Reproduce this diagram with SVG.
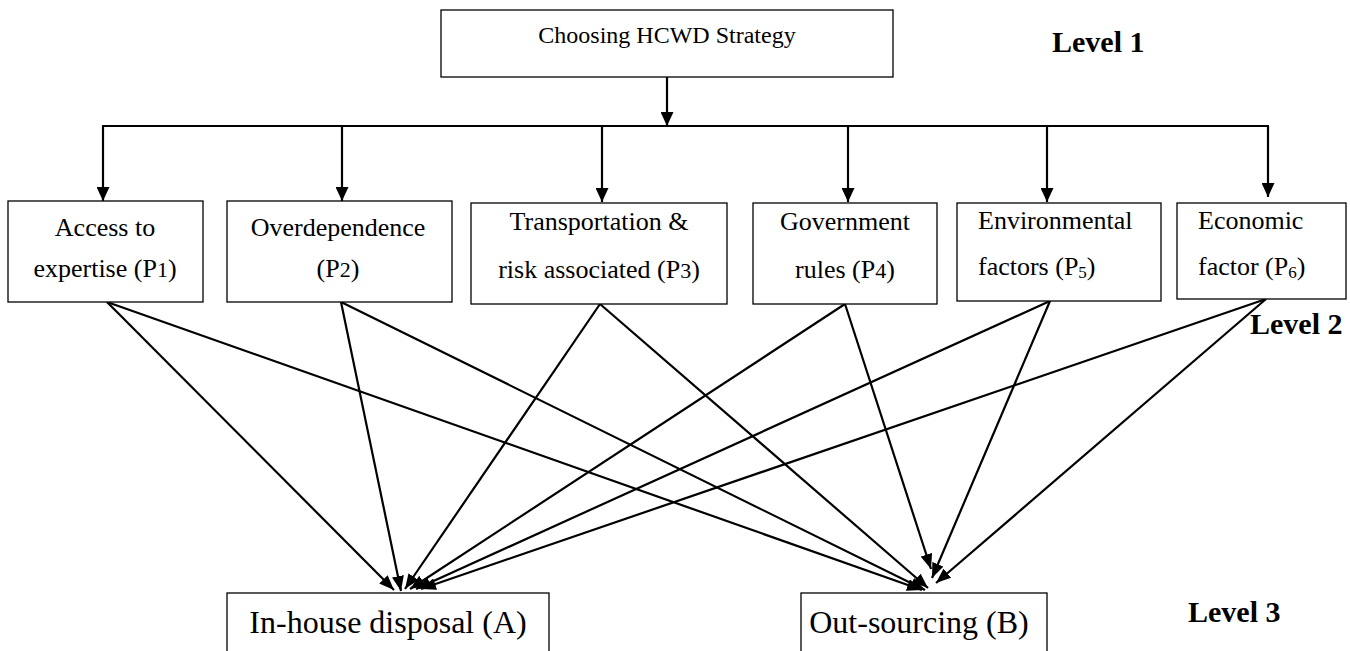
<svg xmlns="http://www.w3.org/2000/svg" width="1350" height="651" viewBox="0 0 1350 651">
<defs>
<style>
.box{fill:#fff;stroke:#000;stroke-width:1.3}
.t{font-family:"Liberation Serif","Times New Roman",serif;fill:#000}
.c{stroke:#000;stroke-width:2.2;fill:none}
.lvl{font-family:"Liberation Serif","Times New Roman",serif;font-weight:bold;font-size:30px;fill:#000}
</style>
<marker id="ah" viewBox="0 0 14 13" refX="14" refY="6.5" markerWidth="14" markerHeight="13" markerUnits="userSpaceOnUse" orient="auto">
<path d="M0,0 L14,6.5 L0,13 z" fill="#000"/>
</marker>
<marker id="ah2" viewBox="0 0 15 12" refX="15" refY="6" markerWidth="15" markerHeight="12" markerUnits="userSpaceOnUse" orient="auto">
<path d="M0,0 L15,6 L0,12 z" fill="#000"/>
</marker>
</defs>
<rect width="1350" height="651" fill="#fff"/>

<g id="connectors">
<line class="c" x1="667" y1="77" x2="667" y2="126" marker-end="url(#ah)"/>
<line class="c" x1="102" y1="126" x2="1269" y2="126"/>
<line class="c" x1="103" y1="126" x2="103" y2="201" marker-end="url(#ah)"/>
<line class="c" x1="342" y1="126" x2="342" y2="201" marker-end="url(#ah)"/>
<line class="c" x1="602" y1="126" x2="602" y2="202" marker-end="url(#ah)"/>
<line class="c" x1="848" y1="126" x2="848" y2="202" marker-end="url(#ah)"/>
<line class="c" x1="1047" y1="126" x2="1047" y2="202" marker-end="url(#ah)"/>
<line class="c" x1="1268" y1="126" x2="1268" y2="197" marker-end="url(#ah)"/>

<line class="c" x1="107" y1="302" x2="394" y2="590" marker-end="url(#ah2)"/>
<line class="c" x1="107" y1="302" x2="922" y2="590" marker-end="url(#ah2)"/>
<line class="c" x1="341" y1="302" x2="401" y2="591" marker-end="url(#ah2)"/>
<line class="c" x1="341" y1="302" x2="925" y2="590" marker-end="url(#ah2)"/>
<line class="c" x1="600" y1="304" x2="405" y2="589" marker-end="url(#ah2)"/>
<line class="c" x1="600" y1="304" x2="928" y2="588" marker-end="url(#ah2)"/>
<line class="c" x1="845" y1="304" x2="410" y2="589" marker-end="url(#ah2)"/>
<line class="c" x1="845" y1="304" x2="931" y2="569" marker-end="url(#ah2)"/>
<line class="c" x1="1050" y1="301" x2="416" y2="589" marker-end="url(#ah2)"/>
<line class="c" x1="1050" y1="301" x2="932" y2="578" marker-end="url(#ah2)"/>
<line class="c" x1="1266" y1="299" x2="421" y2="589" marker-end="url(#ah2)"/>
<line class="c" x1="1266" y1="299" x2="936" y2="583" marker-end="url(#ah2)"/>
</g>

<g id="goal">
<rect class="box" x="441" y="10" width="452" height="67"/>
<text class="t" x="667" y="43" font-size="24" text-anchor="middle">Choosing HCWD Strategy</text>
</g>

<g id="p1">
<rect class="box" x="8" y="201" width="195" height="101"/>
<text class="t" x="105" y="236" font-size="26" text-anchor="middle">Access to</text>
<text class="t" x="105" y="277" font-size="26" text-anchor="middle">expertise (P<tspan font-size="22">1</tspan>)</text>
</g>

<g id="p2">
<rect class="box" x="227" y="201" width="225" height="101"/>
<text class="t" x="338" y="236" font-size="26" text-anchor="middle">Overdependence</text>
<text class="t" x="338" y="277" font-size="26" text-anchor="middle">(P<tspan font-size="22">2</tspan>)</text>
</g>

<g id="p3">
<rect class="box" x="471" y="203" width="256" height="101"/>
<text class="t" x="599" y="230" font-size="26" text-anchor="middle">Transportation &amp;</text>
<text class="t" x="599" y="278" font-size="26" text-anchor="middle">risk associated (P<tspan font-size="22">3</tspan>)</text>
</g>

<g id="p4">
<rect class="box" x="753" y="203" width="184" height="101"/>
<text class="t" x="845" y="230" font-size="26" text-anchor="middle">Government</text>
<text class="t" x="845" y="278" font-size="26" text-anchor="middle">rules (P<tspan font-size="22">4</tspan>)</text>
</g>

<g id="p5">
<rect class="box" x="957" y="203" width="204" height="98"/>
<text class="t" x="978" y="229" font-size="26">Environmental</text>
<text class="t" x="978" y="275" font-size="26">factors (P<tspan font-size="17" dy="3">5</tspan><tspan dy="-3">)</tspan></text>
</g>

<g id="p6">
<rect class="box" x="1177" y="203" width="169" height="96"/>
<text class="t" x="1198" y="229" font-size="26">Economic</text>
<text class="t" x="1198" y="275" font-size="26">factor (P<tspan font-size="17" dy="3">6</tspan><tspan dy="-3">)</tspan></text>
</g>

<g id="a">
<rect class="box" x="227" y="593" width="322" height="70"/>
<text class="t" x="388" y="633" font-size="32" text-anchor="middle">In-house disposal (A)</text>
</g>

<g id="b">
<rect class="box" x="801" y="593" width="246" height="70"/>
<text class="t" x="919" y="633" font-size="32" text-anchor="middle">Out-sourcing (B)</text>
</g>

<g id="levels">
<text class="lvl" x="1052" y="52" font-size="31">Level 1</text>
<text class="lvl" x="1250" y="334">Level 2</text>
<text class="lvl" x="1188" y="622">Level 3</text>
</g>
</svg>
